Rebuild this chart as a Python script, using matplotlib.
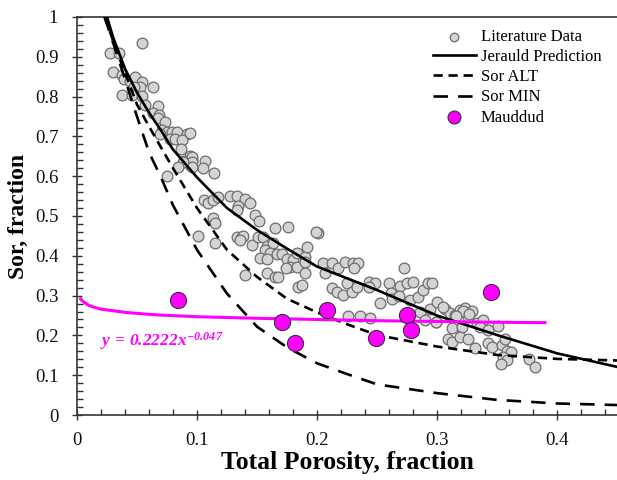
import matplotlib
matplotlib.use("Agg")
import matplotlib.pyplot as plt
from matplotlib.ticker import MultipleLocator

plt.rcParams['font.family'] = ['Liberation Serif', 'DejaVu Serif']
plt.rcParams['mathtext.fontset'] = 'custom'
plt.rcParams['mathtext.rm'] = 'Liberation Serif:italic:bold'
plt.rcParams['mathtext.it'] = 'Liberation Serif:italic:bold'

# literature data (porosity, Sor)
lit_x = [0.054, 0.0275, 0.035, 0.030, 0.0375, 0.039, 0.044, 0.048, 0.054, 0.0525,
         0.0475, 0.063, 0.0375, 0.046, 0.054, 0.057, 0.0675, 0.063, 0.068, 0.0675,
         0.073, 0.071, 0.075, 0.079, 0.083, 0.092, 0.069, 0.0775, 0.082, 0.0875,
         0.087, 0.094, 0.096, 0.089, 0.094, 0.075, 0.094, 0.096, 0.096, 0.096,
         0.107, 0.105, 0.114, 0.106, 0.109, 0.113, 0.1175, 0.1275, 0.133, 0.14,
         0.134, 0.133, 0.144, 0.148, 0.152, 0.113, 0.115, 0.165, 0.176, 0.201,
         0.101, 0.115, 0.133, 0.1375, 0.138, 0.136, 0.146, 0.151, 0.155, 0.158,
         0.163, 0.157, 0.161, 0.1665, 0.171, 0.175, 0.18, 0.183, 0.19, 0.1915,
         0.1775, 0.183, 0.19, 0.1525, 0.158, 0.19, 0.174, 0.14, 0.158, 0.165,
         0.1675, 0.184, 0.1875, 0.205, 0.2125, 0.207, 0.2175, 0.2235, 0.23, 0.234,
         0.231, 0.2125, 0.2165, 0.222, 0.225, 0.229, 0.233, 0.243, 0.248, 0.243,
         0.2525, 0.26, 0.2615, 0.2625, 0.269, 0.2725, 0.275, 0.28, 0.2775, 0.284,
         0.288, 0.2925, 0.294, 0.286, 0.3, 0.226, 0.236, 0.244, 0.29, 0.299,
         0.296, 0.307, 0.311, 0.315, 0.319, 0.3235, 0.329, 0.326, 0.299, 0.3125,
         0.321, 0.333, 0.338, 0.336, 0.3425, 0.351, 0.309, 0.3125, 0.319, 0.326,
         0.332, 0.3425, 0.346, 0.354, 0.357, 0.358, 0.3615, 0.355, 0.358, 0.353,
         0.377, 0.382, 0.088, 0.084, 0.199, 0.322, 0.327, 0.305, 0.316, 0.268]
lit_y = [0.935, 0.91, 0.91, 0.862, 0.854, 0.844, 0.839, 0.849, 0.837, 0.824,
         0.824, 0.824, 0.804, 0.804, 0.801, 0.779, 0.776, 0.759, 0.754, 0.746,
         0.736, 0.716, 0.711, 0.711, 0.711, 0.706, 0.706, 0.693, 0.693, 0.691,
         0.668, 0.651, 0.641, 0.638, 0.628, 0.600, 0.709, 0.648, 0.636, 0.623,
         0.638, 0.621, 0.608, 0.540, 0.533, 0.540, 0.548, 0.550, 0.550, 0.543,
         0.525, 0.515, 0.533, 0.503, 0.487, 0.495, 0.482, 0.470, 0.472, 0.457,
         0.450, 0.432, 0.447, 0.447, 0.450, 0.440, 0.427, 0.447, 0.447, 0.425,
         0.432, 0.415, 0.407, 0.405, 0.405, 0.392, 0.389, 0.407, 0.397, 0.422,
         0.372, 0.372, 0.384, 0.394, 0.392, 0.357, 0.369, 0.352, 0.357, 0.347,
         0.347, 0.322, 0.327, 0.382, 0.382, 0.357, 0.369, 0.384, 0.382, 0.382,
         0.369, 0.319, 0.309, 0.302, 0.332, 0.309, 0.322, 0.334, 0.332, 0.322,
         0.281, 0.332, 0.307, 0.291, 0.324, 0.369, 0.332, 0.334, 0.289, 0.296,
         0.314, 0.332, 0.266, 0.259, 0.284, 0.249, 0.249, 0.244, 0.239, 0.234,
         0.332, 0.266, 0.256, 0.251, 0.264, 0.269, 0.261, 0.246, 0.234, 0.219,
         0.221, 0.231, 0.239, 0.221, 0.214, 0.224, 0.191, 0.183, 0.196, 0.191,
         0.168, 0.181, 0.171, 0.176, 0.191, 0.161, 0.158, 0.146, 0.138, 0.128,
         0.141, 0.121, 0.636, 0.622, 0.46, 0.262, 0.255, 0.272, 0.248, 0.30]

# model curves
jer_x = [0.025, 0.03, 0.04, 0.05, 0.06, 0.07, 0.08, 0.1, 0.125, 0.15, 0.175,
         0.2, 0.25, 0.3, 0.35, 0.4, 0.45]
jer_y = [1.0, 0.95, 0.87, 0.81, 0.76, 0.715, 0.667, 0.597, 0.52, 0.465, 0.418,
         0.373, 0.314, 0.25, 0.201, 0.155, 0.121]

alt_x = [0.023, 0.035, 0.05, 0.06, 0.08, 0.1, 0.125, 0.15, 0.175, 0.2, 0.225,
         0.25, 0.3, 0.35, 0.4, 0.45]
alt_y = [1.0, 0.9, 0.78, 0.725, 0.62, 0.52, 0.415, 0.347, 0.292, 0.258, 0.228,
         0.201, 0.172, 0.151, 0.141, 0.137]

min_x = [0.023, 0.035, 0.05, 0.06, 0.07, 0.08, 0.1, 0.125, 0.15, 0.175, 0.2,
         0.225, 0.25, 0.3, 0.35, 0.4, 0.45]
min_y = [1.0, 0.89, 0.75, 0.66, 0.597, 0.527, 0.415, 0.305, 0.222, 0.17, 0.13,
         0.103, 0.077, 0.055, 0.038, 0.029, 0.025]

# Mauddud points and their power-law trend
mau_x = [0.084, 0.171, 0.182, 0.208, 0.249, 0.275, 0.278, 0.345]
mau_y = [0.289, 0.234, 0.181, 0.264, 0.193, 0.251, 0.214, 0.309]

trend_x = [0.003, 0.004, 0.006, 0.008, 0.01, 0.015, 0.02, 0.03, 0.04, 0.055,
           0.07, 0.1, 0.15, 0.2, 0.25, 0.3, 0.35, 0.39]
trend_y = [0.292, 0.288, 0.283, 0.279, 0.275, 0.270, 0.266, 0.262, 0.258, 0.254,
           0.251, 0.247, 0.243, 0.240, 0.237, 0.235, 0.233, 0.232]
trend_label = r"$y\,=\,0.2222x^{-0.047}$"

fig = plt.figure(figsize=(6.17, 4.80), dpi=100)
ax = fig.add_axes([0.1248, 0.1354, 0.8752, 0.8292])

ax.scatter(lit_x, lit_y, s=60, facecolor="#d4d4d4", edgecolor="#6e6e6e",
           linewidth=0.9, zorder=2, label="Literature Data")
ax.plot(jer_x, jer_y, color="black", lw=1.9, zorder=3, label="Jerauld Prediction")
ax.plot(alt_x, alt_y, color="black", lw=1.9, dashes=(3.5, 2.2), zorder=3, label="Sor ALT")
ax.plot(min_x, min_y, color="black", lw=1.9, dashes=(5.5, 3.8), zorder=3, label="Sor MIN")
ax.plot(trend_x, trend_y, color="#ff00ff", lw=2.2, zorder=4)
ax.scatter(mau_x, mau_y, s=135, facecolor="#ff00ff", edgecolor="#333333",
           linewidth=0.8, zorder=5, label="Mauddud")

ax.text(0.019, 0.186, trend_label, color="#ff00ff", fontsize=12.5, ha="left", va="center")

ax.set_xlim(0, 0.45)
ax.set_ylim(0, 1)
ax.xaxis.set_minor_locator(MultipleLocator(0.02))
ax.yaxis.set_minor_locator(MultipleLocator(0.02))
ax.set_xticks([0, 0.1, 0.2, 0.3, 0.4])
ax.set_xticklabels(["0", "0.1", "0.2", "0.3", "0.4"])
ax.set_yticks([0, 0.1, 0.2, 0.3, 0.4, 0.5, 0.6, 0.7, 0.8, 0.9, 1.0])
ax.set_yticklabels(["0", "0.1", "0.2", "0.3", "0.4", "0.5", "0.6", "0.7", "0.8", "0.9", "1"])
ax.tick_params(which="major", direction="inout", length=7, width=1, labelsize=13.5,
               color="#333333", labelcolor="#111111")
ax.tick_params(which="minor", direction="in", length=4, width=1, color="#333333")
ax.tick_params(axis="x", pad=9)
ax.tick_params(axis="y", pad=10)

for side in ["left", "bottom", "top"]:
    ax.spines[side].set_color("#333333")
    ax.spines[side].set_linewidth(1.2)
ax.spines["right"].set_visible(False)

ax.set_xlabel("Total Porosity, fraction", fontsize=18.5, fontweight="bold", labelpad=1)
ax.set_ylabel("Sor, fraction", fontsize=17, fontweight="bold", labelpad=4)

ax.legend(loc="upper right", bbox_to_anchor=(0.99, 0.995), frameon=False, fontsize=12,
          handlelength=2.6, handletextpad=0.3, labelspacing=0.25, borderaxespad=0.2,
          markerscale=0.8)

fig.savefig("out.png", dpi=100)
